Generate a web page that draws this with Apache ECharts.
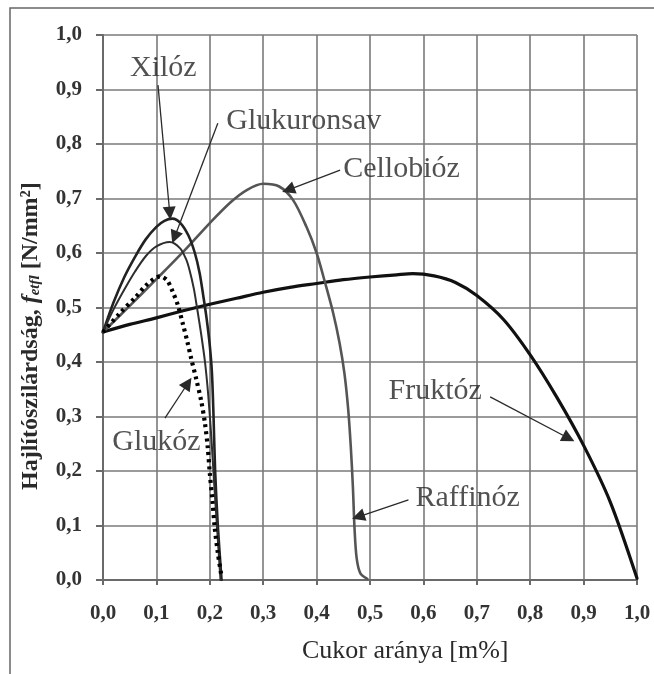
<!DOCTYPE html>
<html>
<head>
<meta charset="utf-8">
<script src="https://cdn.jsdelivr.net/npm/echarts@6/dist/echarts.min.js"></script>
<style>
html,body{margin:0;padding:0;background:#fff;}
#c{width:654px;height:674px;}
</style>
</head>
<body>
<div id="c"></div>
<script>
// ---- data ----
var xTicks = [0,0.1,0.2,0.3,0.4,0.5,0.6,0.7,0.8,0.9,1.0];
var yTicks = [0,0.1,0.2,0.3,0.4,0.5,0.6,0.7,0.8,0.9,1.0];

var xilozX = [0,0.02,0.04,0.06,0.08,0.1,0.115,0.13,0.145,0.16,0.172,0.181,0.188,0.194,0.2,0.204,0.207,0.21,0.215,0.222];
var xilozY = [0.455,0.51,0.556,0.593,0.625,0.648,0.659,0.663,0.655,0.632,0.6,0.563,0.52,0.48,0.43,0.38,0.3,0.2,0.1,0.0];

var glukuronX = [0,0.02,0.04,0.06,0.08,0.1,0.125,0.144,0.155,0.162,0.17,0.176,0.184,0.191,0.197,0.203,0.208,0.214,0.22];
var glukuronY = [0.455,0.497,0.533,0.566,0.594,0.612,0.62,0.609,0.59,0.569,0.535,0.5,0.45,0.4,0.34,0.26,0.18,0.09,0.0];

var glukozX = [0,0.03,0.06,0.08,0.095,0.107,0.12,0.13,0.14,0.15,0.158,0.165,0.175,0.184,0.191,0.196,0.2,0.205,0.209,0.215,0.222];
var glukozY = [0.455,0.488,0.518,0.54,0.552,0.557,0.55,0.53,0.505,0.468,0.437,0.407,0.367,0.328,0.287,0.245,0.196,0.145,0.098,0.05,0.006];

var cellobiozX = [0,0.05,0.1,0.15,0.2,0.24,0.27,0.3,0.33,0.356,0.381,0.4,0.416,0.431,0.443,0.452,0.459,0.464,0.468,0.471,0.475,0.482,0.495];
var cellobiozY = [0.455,0.503,0.552,0.602,0.655,0.694,0.716,0.727,0.722,0.697,0.648,0.6,0.545,0.49,0.435,0.38,0.315,0.245,0.17,0.095,0.04,0.012,0.002];

var fruktozX = [0,0.05,0.1,0.15,0.2,0.25,0.3,0.35,0.4,0.45,0.5,0.55,0.58,0.62,0.66,0.7,0.75,0.8,0.85,0.9,0.95,1.0];
var fruktozY = [0.455,0.469,0.481,0.494,0.506,0.517,0.528,0.537,0.544,0.551,0.556,0.56,0.562,0.558,0.546,0.522,0.478,0.413,0.335,0.247,0.143,0.003];

// annotations (data coordinates)
var labelNames = ['Xilóz','Glukuronsav','Cellobióz','Glukóz','Fruktóz','Raffinóz'];
var labelX = [0.113,0.376,0.559,0.100,0.622,0.683];
var labelY = [0.940,0.842,0.754,0.253,0.347,0.150];

var arrowFrom = [[0.103,0.908],[0.215,0.838],[0.444,0.752],[0.116,0.297],[0.725,0.336],[0.572,0.147]];
var arrowTo   = [[0.125,0.673],[0.134,0.629],[0.347,0.716],[0.159,0.361],[0.872,0.260],[0.478,0.116]];

function zip(a,b){var r=[];for(var i=0;i<a.length;i++)r.push([a[i],b[i]]);return r;}
function fmt(v){return v.toFixed(1).replace('.',',');}

var serif = "'Liberation Serif','DejaVu Serif',serif";
var gridColor = '#7a7a7a';

var chart = echarts.init(document.getElementById('c'), null, {renderer:'canvas'});

function curve(name, xs, ys, color, width, type){
  return {
    name:name, type:'line', data:zip(xs,ys), smooth:0.3, showSymbol:false, symbol:'none',
    lineStyle:{color:color,width:width,type:type||'solid',cap:type?'butt':'round',join:'round'},
    silent:true, animation:false, z:3
  };
}

var labelData = labelNames.map(function(n,i){return {name:n,value:[labelX[i],labelY[i]]};});
var arrowData = arrowFrom.map(function(f,i){return {coords:[f,arrowTo[i]]};});

chart.setOption({
  animation:false,
  backgroundColor:'#ffffff',
  grid:{left:103,right:17,top:35,bottom:94},
  xAxis:{
    type:'value', min:0, max:1, interval:0.1,
    axisLine:{show:true,onZero:false,lineStyle:{color:'#6a6a6a',width:2}},
    axisTick:{show:true,length:5,lineStyle:{color:'#6a6a6a',width:2}},
    axisLabel:{margin:23,formatter:fmt,fontFamily:serif,fontSize:21,fontWeight:'bold',color:'#333'},
    splitLine:{show:true,lineStyle:{color:gridColor,width:1.6}}
  },
  yAxis:{
    type:'value', min:0, max:1, interval:0.1,
    axisLine:{show:true,onZero:false,lineStyle:{color:'#6a6a6a',width:2}},
    axisTick:{show:true,length:7,lineStyle:{color:'#6a6a6a',width:2}},
    axisLabel:{margin:21,formatter:fmt,fontFamily:serif,fontSize:21,fontWeight:'bold',color:'#333'},
    splitLine:{show:true,lineStyle:{color:gridColor,width:1.6}}
  },
  series:[
    curve('Fruktóz', fruktozX, fruktozY, '#111111', 3.2),
    curve('Cellobióz', cellobiozX, cellobiozY, '#555555', 2.6),
    curve('Xilóz', xilozX, xilozY, '#222222', 2.6),
    curve('Glukuronsav', glukuronX, glukuronY, '#2e2e2e', 2),
    curve('Glukóz', glukozX, glukozY, '#000000', 4.2, [3,4]),
    {
      type:'lines', coordinateSystem:'cartesian2d', data:arrowData, silent:true, z:4,
      symbol:['none','triangle'], symbolSize:[9,13],
      lineStyle:{color:'#2a2a2a',width:1.3,opacity:1}
    },
    {
      type:'scatter', data:labelData, symbolSize:1, silent:true, z:5,
      itemStyle:{color:'rgba(0,0,0,0)'},
      label:{show:true,position:'inside',formatter:'{b}',fontFamily:serif,fontSize:30,color:'#262626'}
    }
  ],
  graphic:[
    {type:'polyline',shape:{points:[[10,674],[10,8],[654,8]]},style:{stroke:'#666',lineWidth:1.5,fill:null},silent:true},
    {type:'text',left:302,top:638,style:{text:'Cukor aránya [m%]',font:'26px '+serif,fill:'#2a2a2a'},silent:true},
    {type:'text',rotation:Math.PI/2,x:15,y:490,silent:true,
     style:{
       text:'{m|Hajlítószilárdság, }{i|f}{s|etfl}{m| [N/mm²]}',
       rich:{
         m:{fontFamily:serif,fontSize:24,fontWeight:'bold',fill:'#2a2a2a',lineHeight:28,verticalAlign:'bottom'},
         i:{fontFamily:serif,fontSize:24,fontStyle:'italic',fontWeight:'bold',fill:'#2a2a2a',lineHeight:28,verticalAlign:'bottom'},
         s:{fontFamily:serif,fontSize:15,fontStyle:'italic',fontWeight:'bold',fill:'#2a2a2a',lineHeight:15,verticalAlign:'bottom'}
       }
     }}
  ]
});
</script>
</body>
</html>
